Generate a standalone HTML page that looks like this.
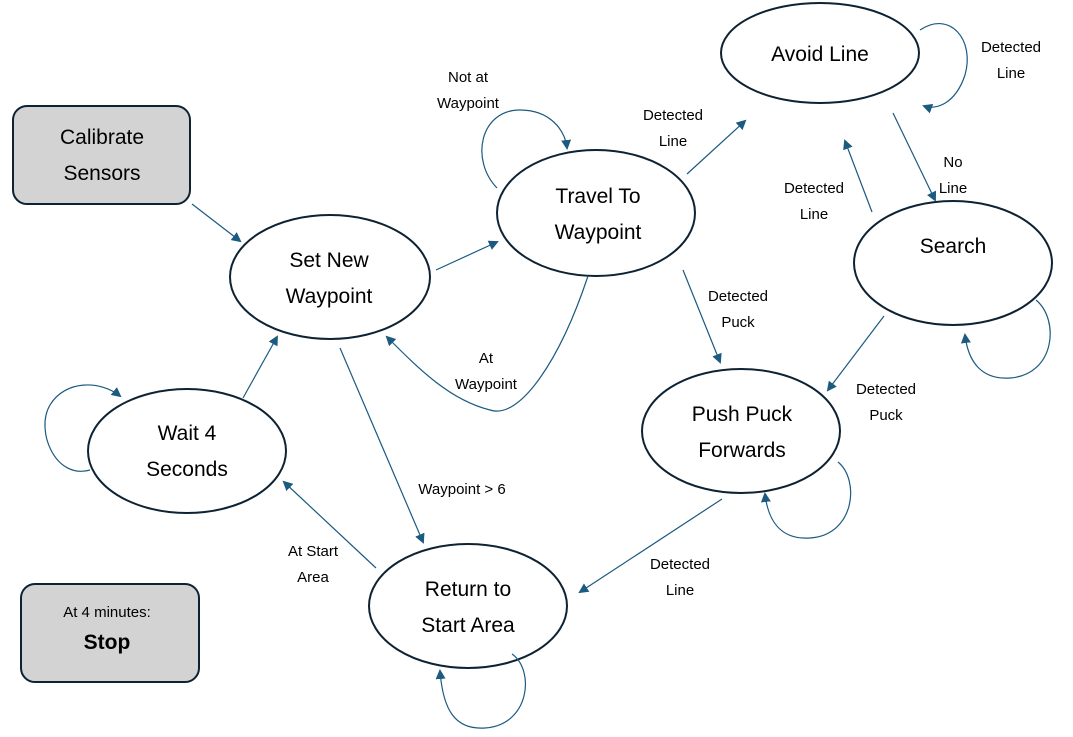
<!DOCTYPE html>
<html><head><meta charset="utf-8"><style>
html,body{margin:0;padding:0;background:#fff;}
svg{display:block;}
text{font-family:"Liberation Sans",sans-serif;}
.n{font-size:21px;fill:#000;text-anchor:middle;}
.l{font-size:15px;fill:#000;text-anchor:middle;}
</style></head><body>
<svg width="1073" height="737" viewBox="0 0 1073 737" xmlns="http://www.w3.org/2000/svg">
<defs>
<marker id="a" markerWidth="10" markerHeight="10" refX="8" refY="5" orient="auto" markerUnits="userSpaceOnUse">
<path d="M0,0 L10,5 L0,10 z" fill="#1c5a80"/>
</marker>
</defs>
<g fill="#d3d3d3" stroke="#0d2233" stroke-width="2">
<rect x="13" y="106" width="177" height="98" rx="14"/>
<rect x="21" y="584" width="178" height="98" rx="14"/>
</g>
<g fill="#fff" stroke="#0d2233" stroke-width="2">
<ellipse cx="820" cy="53" rx="99" ry="50"/>
<ellipse cx="596" cy="213" rx="99" ry="63"/>
<ellipse cx="330" cy="277" rx="100" ry="62"/>
<ellipse cx="953" cy="263" rx="99" ry="62"/>
<ellipse cx="741" cy="431" rx="99" ry="62"/>
<ellipse cx="187" cy="451" rx="99" ry="62"/>
<ellipse cx="468" cy="606" rx="99" ry="62"/>
</g>
<g stroke="#1c5a80" stroke-width="1.2" fill="none" marker-end="url(#a)">
<line x1="192" y1="204" x2="240" y2="241"/>
<line x1="436" y1="270" x2="497" y2="242"/>
<line x1="687" y1="174" x2="745" y2="121"/>
<line x1="893" y1="113" x2="935" y2="200"/>
<line x1="872" y1="212" x2="845" y2="141"/>
<line x1="683" y1="270" x2="720" y2="362"/>
<line x1="884" y1="316" x2="828" y2="390"/>
<line x1="722" y1="499" x2="580" y2="592"/>
<line x1="340" y1="348" x2="423" y2="542"/>
<line x1="376" y1="568" x2="284" y2="482"/>
<line x1="243" y1="398" x2="277" y2="337"/>
<path d="M588,276 C560,360 520,420 490,410 C450,400 420,370 387,337"/>
<path d="M497,188 C470,160 480,110 520,110 C550,110 565,130 567,148"/>
<path d="M920,30 C950,10 975,40 965,75 C955,105 935,110 924,106"/>
<path d="M1036,300 C1060,320 1055,375 1010,378 C980,380 968,360 965,335"/>
<path d="M838,462 C860,480 855,535 810,538 C780,540 768,520 765,494"/>
<path d="M512,654 C535,670 530,725 485,728 C455,730 443,710 440,671"/>
<path d="M90,470 C55,480 35,430 50,405 C65,380 100,380 120,396"/>
</g>
<text class="n" x="102" y="144">Calibrate</text>
<text class="n" x="102" y="180">Sensors</text>
<text class="l" x="107" y="617">At 4 minutes:</text>
<text class="n" x="107" y="649" style="font-weight:bold">Stop</text>
<text class="n" x="820" y="61">Avoid Line</text>
<text class="n" x="598" y="203">Travel To</text>
<text class="n" x="598" y="239">Waypoint</text>
<text class="n" x="329" y="267">Set New</text>
<text class="n" x="329" y="303">Waypoint</text>
<text class="n" x="953" y="253">Search</text>
<text class="n" x="742" y="421">Push Puck</text>
<text class="n" x="742" y="457">Forwards</text>
<text class="n" x="187" y="440">Wait 4</text>
<text class="n" x="187" y="476">Seconds</text>
<text class="n" x="468" y="596">Return to</text>
<text class="n" x="468" y="632">Start Area</text>
<text class="l" x="468" y="82">Not at</text>
<text class="l" x="468" y="108">Waypoint</text>
<text class="l" x="673" y="120">Detected</text>
<text class="l" x="673" y="146">Line</text>
<text class="l" x="1011" y="52">Detected</text>
<text class="l" x="1011" y="78">Line</text>
<text class="l" x="953" y="167">No</text>
<text class="l" x="953" y="193">Line</text>
<text class="l" x="814" y="193">Detected</text>
<text class="l" x="814" y="219">Line</text>
<text class="l" x="738" y="301">Detected</text>
<text class="l" x="738" y="327">Puck</text>
<text class="l" x="886" y="394">Detected</text>
<text class="l" x="886" y="420">Puck</text>
<text class="l" x="486" y="363">At</text>
<text class="l" x="486" y="389">Waypoint</text>
<text class="l" x="462" y="494">Waypoint &gt; 6</text>
<text class="l" x="313" y="556">At Start</text>
<text class="l" x="313" y="582">Area</text>
<text class="l" x="680" y="569">Detected</text>
<text class="l" x="680" y="595">Line</text>
</svg>
</body></html>
